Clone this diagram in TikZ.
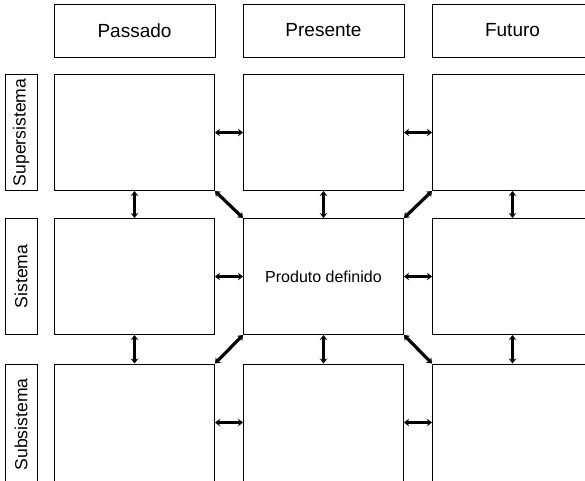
\documentclass[tikz,border=0pt]{standalone}
\usepackage{fontspec}
\setmainfont{Liberation Sans}
\usetikzlibrary{arrows.meta}
\tikzset{
  cell/.style={draw, line width=1pt, minimum width=160pt, minimum height=116pt, inner sep=0pt},
  lastcell/.style={cell, minimum height=121pt},
  head/.style={draw, line width=1pt, minimum width=161pt, minimum height=53pt, inner sep=0pt, font=\fontsize{19}{21}\selectfont},
  lbl/.style={draw, line width=1pt, minimum width=116pt, minimum height=32pt, inner sep=0pt, rotate=90, font=\fontsize{17.6}{19}\selectfont},
  link/.style={line width=3.2pt, {Stealth[length=5pt,width=7.5pt]}-{Stealth[length=5pt,width=7.5pt]}}
}
\begin{document}
\begin{tikzpicture}[x=1pt,y=-1pt]
\clip (0,0) rectangle (585,480);
\fill[white] (0,0) rectangle (585,480);
% headers
\node[head] (hp) at (134.5,30.5) {Passado};
\node[head] (hn) at (323.5,30.5) {Presente};
\node[head] (hf) at (512.5,30.5) {Futuro};
% row labels
\node[lbl] (l1) at (21,132.5) {Supersistema};
\node[lbl] (l2) at (21,276.5) {Sistema};
\node[lbl, minimum width=121pt] (l3) at (21,424.5) {Subsistema};
% cells
\node[cell] (a1) at (134.5,132.5) {};
\node[cell] (a2) at (323.5,132.5) {};
\node[cell] (a3) at (512.5,132.5) {};
\node[cell] (b1) at (134.5,276.5) {};
\node[cell, font=\fontsize{16}{18}\selectfont] (b2) at (323.5,276.5) {Produto definido};
\node[cell] (b3) at (512.5,276.5) {};
\node[lastcell] (c1) at (134.5,424.5) {};
\node[lastcell] (c2) at (323.5,424.5) {};
\node[lastcell] (c3) at (512.5,424.5) {};
% horizontal links
\draw[link] (a1.east) -- (a2.west);
\draw[link] (a2.east) -- (a3.west);
\draw[link] (b1.east) -- (b2.west);
\draw[link] (b2.east) -- (b3.west);
\draw[link] ([yshift=2pt]c1.east) -- ([yshift=2pt]c2.west);
\draw[link] ([yshift=2pt]c2.east) -- ([yshift=2pt]c3.west);
% vertical links
\draw[link] (a1.south) -- (b1.north);
\draw[link] (a2.south) -- (b2.north);
\draw[link] (a3.south) -- (b3.north);
\draw[link] (b1.south) -- (c1.north);
\draw[link] (b2.south) -- (c2.north);
\draw[link] (b3.south) -- (c3.north);
% diagonal links
\draw[link] (a1.south east) -- (b2.north west);
\draw[link] (a3.south west) -- (b2.north east);
\draw[link] (c1.north east) -- (b2.south west);
\draw[link] (c3.north west) -- (b2.south east);
\end{tikzpicture}
\end{document}
